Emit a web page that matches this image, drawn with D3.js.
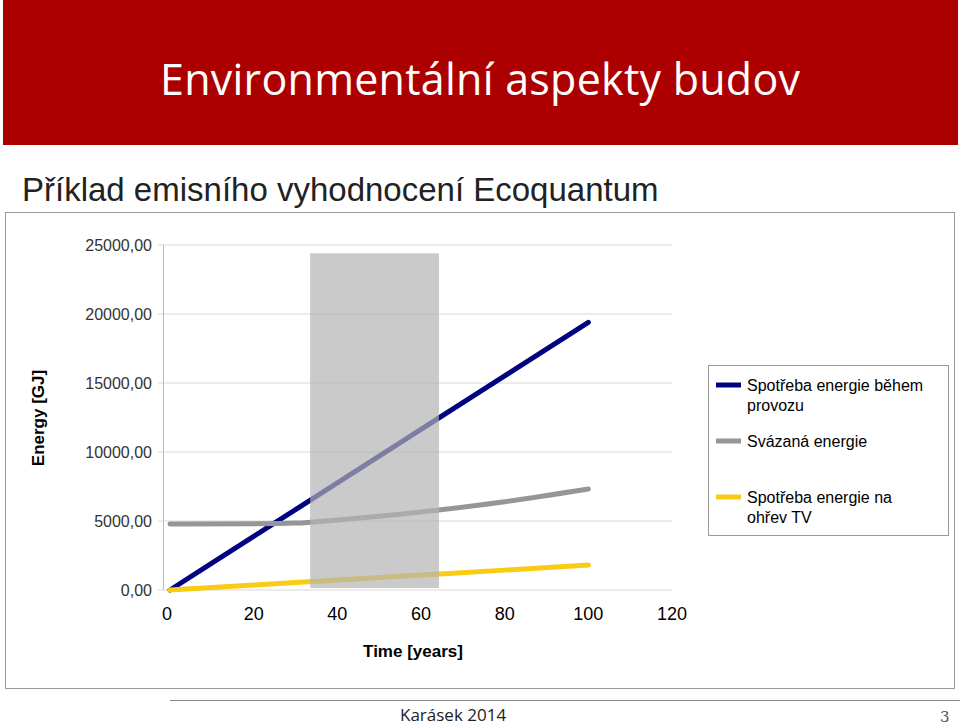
<!DOCTYPE html>
<html><head><meta charset="utf-8">
<script src="https://cdn.jsdelivr.net/npm/d3@7"></script>
<style>body{margin:0;background:#fff}svg{display:block}</style>
</head><body>
<svg id="c" width="960" height="727"></svg>
<script>
const yTicks=[0,5000,10000,15000,20000,25000];
const xTicks=[0,20,40,60,80,100,120];
const years=[0,20,30,40,60,80,100];
const provoz=[0,3880,5820,7760,11640,15520,19400];
const svazana=[4780,4800,4850,5080,5650,6400,7320];
const ohrev=[0,360,540,720,1080,1440,1810];
const seriesNames=["Spotřeba energie během provozu","Svázaná energie","Spotřeba energie na ohřev TV"];
const colors=["#00037f","#969696","#f7cc12"];
const band=[33.5,64.3,24400];

const svg=d3.select("#c");
svg.append("rect").attr("x",3).attr("y",0).attr("width",955).attr("height",145).attr("fill","#ac0000");
svg.append("text").attr("x",160).attr("y",95).attr("fill","#fff").attr("font-family","Open Sans, Liberation Sans").attr("font-size",43).attr("textLength",640).text("Environmentální aspekty budov");
svg.append("text").attr("x",22).attr("y",201).attr("fill","#222").attr("font-family","Liberation Sans, Arial").attr("font-size",33).text("Příklad emisního vyhodnocení Ecoquantum");
svg.append("rect").attr("x",5.5).attr("y",212.5).attr("width",949).attr("height",476).attr("fill","none").attr("stroke","#999");

const x=d3.scaleLinear().domain([0,120]).range([170,672]);
const y=d3.scaleLinear().domain([0,25000]).range([590,245]);
const F="Liberation Sans, Arial";
svg.append("g").selectAll("line").data(yTicks).join("line")
 .attr("x1",158).attr("x2",672).attr("y1",d=>y(d)).attr("y2",d=>y(d)).attr("stroke","#d8d8d8");
svg.append("line").attr("x1",163.5).attr("x2",163.5).attr("y1",245).attr("y2",590).attr("stroke","#bbb");
svg.append("g").selectAll("text").data(yTicks).join("text")
 .attr("x",152).attr("y",d=>y(d)+6).attr("text-anchor","end").attr("font-family",F).attr("font-size",16).attr("fill","#333")
 .text(d=>d3.format(".2f")(d).replace(".",","));
svg.append("g").selectAll("text").data(xTicks).join("text")
 .attr("x",d=>x(d)-(d===0?3:0)).attr("y",620).attr("text-anchor","middle").attr("font-family",F).attr("font-size",18).text(d=>d);
svg.append("text").attr("x",413).attr("y",657).attr("text-anchor","middle").attr("font-family",F).attr("font-size",17).attr("font-weight","bold").text("Time [years]");
svg.append("text").attr("transform","translate(44,418) rotate(-90)").attr("text-anchor","middle").attr("font-family",F).attr("font-size",17).attr("font-weight","bold").text("Energy [GJ]");

const data=[provoz,svazana,ohrev];
const line=d3.line().x((d,i)=>x(years[i])).y(d=>y(d)).curve(d3.curveMonotoneX);
data.forEach((s,k)=>svg.append("path").attr("d",line(s)).attr("fill","none").attr("stroke",colors[k]).attr("stroke-width",5).attr("stroke-linecap","round"));
svg.append("rect").attr("x",x(band[0])).attr("y",y(band[2])).attr("width",x(band[1])-x(band[0])).attr("height",y(0)-y(band[2])-2)
 .attr("fill","#b4b4b4").attr("opacity",0.7);

svg.append("rect").attr("x",708.5).attr("y",365.5).attr("width",240).attr("height",170).attr("fill","#fff").attr("stroke","#999");
const lg=[[385,["Spotřeba energie během","provozu"]],[441,["Svázaná energie"]],[497,["Spotřeba energie na","ohřev TV"]]];
lg.forEach((l,k)=>{
 svg.append("line").attr("x1",716).attr("x2",741).attr("y1",l[0]).attr("y2",l[0]).attr("stroke",colors[k]).attr("stroke-width",5);
 l[1].forEach((t,j)=>svg.append("text").attr("x",747).attr("y",l[0]+6+j*20).attr("font-family",F).attr("font-size",16).text(t));
});
svg.append("line").attr("x1",170).attr("x2",960).attr("y1",700.5).attr("y2",700.5).attr("stroke","#888");
svg.append("text").attr("x",400).attr("y",721).attr("font-family","Open Sans, Liberation Sans").attr("font-size",17).attr("fill","#222").text("Karásek 2014");
svg.append("text").attr("x",940).attr("y",722).attr("font-family","DejaVu Serif").attr("font-size",15).attr("fill","#555").text("3");
</script>
</body></html>
